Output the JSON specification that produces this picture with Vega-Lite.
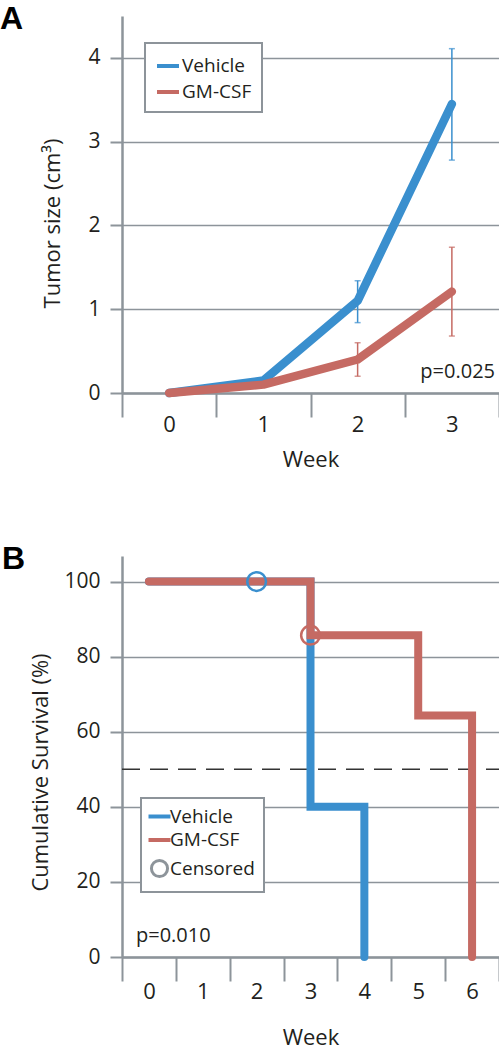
{
  "$schema": "https://vega.github.io/schema/vega-lite/v6.json",
  "background": "white",
  "padding": {"left": 0, "top": 3, "right": 0, "bottom": 8},
  "spacing": 163,
  "bounds": "flush",
  "resolve": {"scale": {"x": "independent", "y": "independent", "color": "independent"}, "legend": {"color": "independent"}},
  "datasets": {
    "tumor": [
      {"group": "Vehicle", "week": 0, "size": 0, "lo": null, "hi": null},
      {"group": "Vehicle", "week": 1, "size": 0.15, "lo": null, "hi": null},
      {"group": "Vehicle", "week": 2, "size": 1.1, "lo": 0.84, "hi": 1.34},
      {"group": "Vehicle", "week": 3, "size": 3.45, "lo": 2.78, "hi": 4.11},
      {"group": "GM-CSF", "week": 0, "size": 0, "lo": null, "hi": null},
      {"group": "GM-CSF", "week": 1, "size": 0.1, "lo": null, "hi": null},
      {"group": "GM-CSF", "week": 2, "size": 0.4, "lo": 0.2, "hi": 0.6},
      {"group": "GM-CSF", "week": 3, "size": 1.21, "lo": 0.68, "hi": 1.74}
    ],
    "surv": [
      {"group": "Vehicle", "week": 0, "surv": 100},
      {"group": "Vehicle", "week": 3, "surv": 40},
      {"group": "Vehicle", "week": 4, "surv": 0},
      {"group": "GM-CSF", "week": 0, "surv": 100},
      {"group": "GM-CSF", "week": 3, "surv": 85.7},
      {"group": "GM-CSF", "week": 5, "surv": 64.3},
      {"group": "GM-CSF", "week": 6, "surv": 0}
    ],
    "censored": [
      {"group": "Vehicle", "week": 2, "surv": 100},
      {"group": "GM-CSF", "week": 3, "surv": 85.7}
    ]
  },
  "vconcat": [
    {
      "width": 377,
      "height": 377,
      "title": {"text": "A", "anchor": "start", "frame": "group", "orient": "top", "offset": 0, "dx": -122, "dy": 20, "baseline": "top", "font": "Liberation Sans", "fontSize": 32, "fontWeight": "bold", "color": "#000000"},
      "data": {"name": "tumor"},
      "encoding": {
        "x": {
          "field": "week", "type": "quantitative", "title": "Week",
          "scale": {"domain": [-0.5, 3.5], "nice": false, "zero": false},
          "axis": {
            "values": [-0.5, 0, 0.5, 1, 1.5, 2, 2.5, 3, 3.5],
            "grid": false,
            "tickSize": 24,
            "tickOpacity": {"condition": {"test": "datum.value % 1 === 0", "value": 0}, "value": 1},
            "labelExpr": "datum.value % 1 === 0 ? '' + datum.value : ''",
            "labelFlush": false,
            "labelOverlap": false,
            "labelPadding": -3,
            "labelFontSize": 22,
            "titlePadding": 14
          }
        },
        "y": {
          "field": "size", "type": "quantitative", "title": "Tumor size (cm³)",
          "scale": {"domain": [0, 4.5], "nice": false},
          "axis": {"values": [0, 1, 2, 3, 4], "grid": true, "tickSize": 12, "labelPadding": 10, "titleX": -58, "titleY": 207, "titleAngle": -90, "titleBaseline": "bottom", "titleAlign": "center"}
        }
      },
      "layer": [
        {
          "transform": [{"filter": "datum.lo != null"}],
          "mark": {"type": "errorbar", "ticks": {"size": 6, "thickness": 1.5}, "rule": {"strokeWidth": 1.5}},
          "encoding": {
            "y": {"field": "lo", "type": "quantitative", "title": "Tumor size (cm³)"},
            "y2": {"field": "hi"},
            "color": {"field": "group", "type": "nominal", "scale": {"domain": ["Vehicle", "GM-CSF"], "range": ["#3a8fce", "#c56a63"]}}
          }
        },
        {
          "transform": [{"filter": "datum.group === 'Vehicle'"}],
          "mark": {"type": "line", "strokeWidth": 8.5, "strokeCap": "round", "strokeJoin": "round"},
          "encoding": {
            "color": {
              "field": "group", "type": "nominal",
              "scale": {"domain": ["Vehicle", "GM-CSF"], "range": ["#3a8fce", "#c56a63"]},
              "legend": {
                "title": null, "orient": "none", "legendX": 23, "legendY": 27,
                "symbolType": "stroke", "symbolSize": 484, "symbolStrokeWidth": 4,
                "labelFontSize": 19, "labelFont": "Open Sans", "labelColor": "#231f20", "labelOffset": 1,
                "padding": 10, "rowPadding": 3, "strokeColor": "#8d949a", "fillColor": "white",
                "encode": {"legend": {"update": {"strokeWidth": {"value": 2}}}}
              }
            }
          }
        },
        {
          "transform": [{"filter": "datum.group === 'GM-CSF'"}],
          "mark": {"type": "line", "strokeWidth": 8.5, "strokeCap": "round", "strokeJoin": "round"},
          "encoding": {
            "color": {"field": "group", "type": "nominal", "scale": {"domain": ["Vehicle", "GM-CSF"], "range": ["#3a8fce", "#c56a63"]}}
          }
        },
        {
          "data": {"values": [{"label": "p=0.025", "week": 3.5, "size": 0.18}]},
          "mark": {"type": "text", "align": "right", "baseline": "alphabetic", "dx": -4, "font": "Open Sans", "fontSize": 20, "color": "#231f20"},
          "encoding": {"text": {"field": "label"}}
        }
      ]
    },
    {
      "width": 377,
      "height": 401,
      "title": {"text": "B", "anchor": "start", "frame": "group", "orient": "top", "offset": 0, "dx": -120, "dy": 20, "baseline": "top", "font": "Liberation Sans", "fontSize": 32, "fontWeight": "bold", "color": "#000000"},
      "data": {"name": "surv"},
      "encoding": {
        "x": {
          "field": "week", "type": "quantitative", "title": "Week",
          "scale": {"domain": [-0.5, 6.5], "nice": false, "zero": false},
          "axis": {
            "values": [-0.5, 0, 0.5, 1, 1.5, 2, 2.5, 3, 3.5, 4, 4.5, 5, 5.5, 6, 6.5],
            "grid": false,
            "tickSize": 24,
            "tickOpacity": {"condition": {"test": "datum.value % 1 === 0", "value": 0}, "value": 1},
            "labelExpr": "datum.value % 1 === 0 ? '' + datum.value : ''",
            "labelFlush": false,
            "labelOverlap": false,
            "labelPadding": 0,
            "labelFontSize": 22,
            "titlePadding": 25
          }
        },
        "y": {
          "field": "surv", "type": "quantitative", "title": "Cumulative Survival (%)",
          "scale": {"domain": [0, 106.8], "nice": false},
          "axis": {"values": [0, 20, 40, 60, 80, 100], "grid": true, "tickSize": 12, "labelPadding": 10, "titleX": -70, "titleY": 216, "titleAngle": -90, "titleBaseline": "bottom", "titleAlign": "center"}
        }
      },
      "layer": [
        {
          "data": {"values": [{"week": -0.5, "week2": 6.5, "surv": 50}]},
          "mark": {"type": "rule", "strokeDash": [18, 10], "color": "#333333", "strokeWidth": 1.5},
          "encoding": {"x2": {"field": "week2"}}
        },
        {
          "transform": [{"filter": "datum.group === 'Vehicle'"}],
          "mark": {"type": "line", "interpolate": "step-after", "strokeWidth": 8, "strokeCap": "round", "strokeJoin": "miter"},
          "encoding": {
            "color": {
              "field": "group", "type": "nominal",
              "scale": {"domain": ["Vehicle", "GM-CSF", "Censored"], "range": ["#3a8fce", "#c56a63", "#8d949a"]},
              "legend": {
                "title": null, "orient": "none", "legendX": 19, "legendY": 242,
                "symbolType": "stroke", "symbolSize": 484, "symbolStrokeWidth": 4,
                "labelFontSize": 19, "labelFont": "Open Sans", "labelColor": "#231f20", "labelOffset": 1,
                "padding": 9, "rowPadding": 3.5, "strokeColor": "#8d949a", "fillColor": "white",
                "encode": {
                  "legend": {"update": {"strokeWidth": {"value": 2}}},
                  "symbols": {"update": {
                    "shape": {"signal": "datum.value === 'Censored' ? 'circle' : 'stroke'"},
                    "size": {"signal": "datum.value === 'Censored' ? 260 : 484"},
                    "strokeWidth": {"signal": "datum.value === 'Censored' ? 3 : 4"},
                    "fill": {"value": "transparent"}
                  }}
                }
              }
            }
          }
        },
        {
          "transform": [{"filter": "datum.group === 'GM-CSF'"}],
          "mark": {"type": "line", "interpolate": "step-after", "strokeWidth": 8, "strokeCap": "round", "strokeJoin": "miter"},
          "encoding": {
            "color": {"field": "group", "type": "nominal", "scale": {"domain": ["Vehicle", "GM-CSF", "Censored"], "range": ["#3a8fce", "#c56a63", "#8d949a"]}}
          }
        },
        {
          "data": {"name": "censored"},
          "mark": {"type": "point", "filled": false, "size": 350, "strokeWidth": 2.5, "opacity": 1},
          "encoding": {
            "color": {"field": "group", "type": "nominal", "scale": {"domain": ["Vehicle", "GM-CSF", "Censored"], "range": ["#3a8fce", "#c56a63", "#8d949a"]}}
          }
        },
        {
          "data": {"values": [{"label": "p=0.010", "week": -0.5, "surv": 4}]},
          "mark": {"type": "text", "align": "left", "baseline": "alphabetic", "dx": 14, "font": "Open Sans", "fontSize": 20, "color": "#231f20"},
          "encoding": {"text": {"field": "label"}}
        }
      ]
    }
  ],
  "config": {
    "view": {"stroke": null},
    "font": "Open Sans",
    "axis": {
      "domainColor": "#8d949a", "domainWidth": 2.5,
      "tickColor": "#8d949a", "tickWidth": 2,
      "gridColor": "#8d949a", "gridWidth": 1.5, "gridOpacity": 1,
      "labelColor": "#231f20", "titleColor": "#231f20",
      "labelFont": "Open Sans", "titleFont": "Open Sans",
      "labelFontSize": 21, "titleFontSize": 22, "titleFontWeight": "normal"
    }
  }
}
